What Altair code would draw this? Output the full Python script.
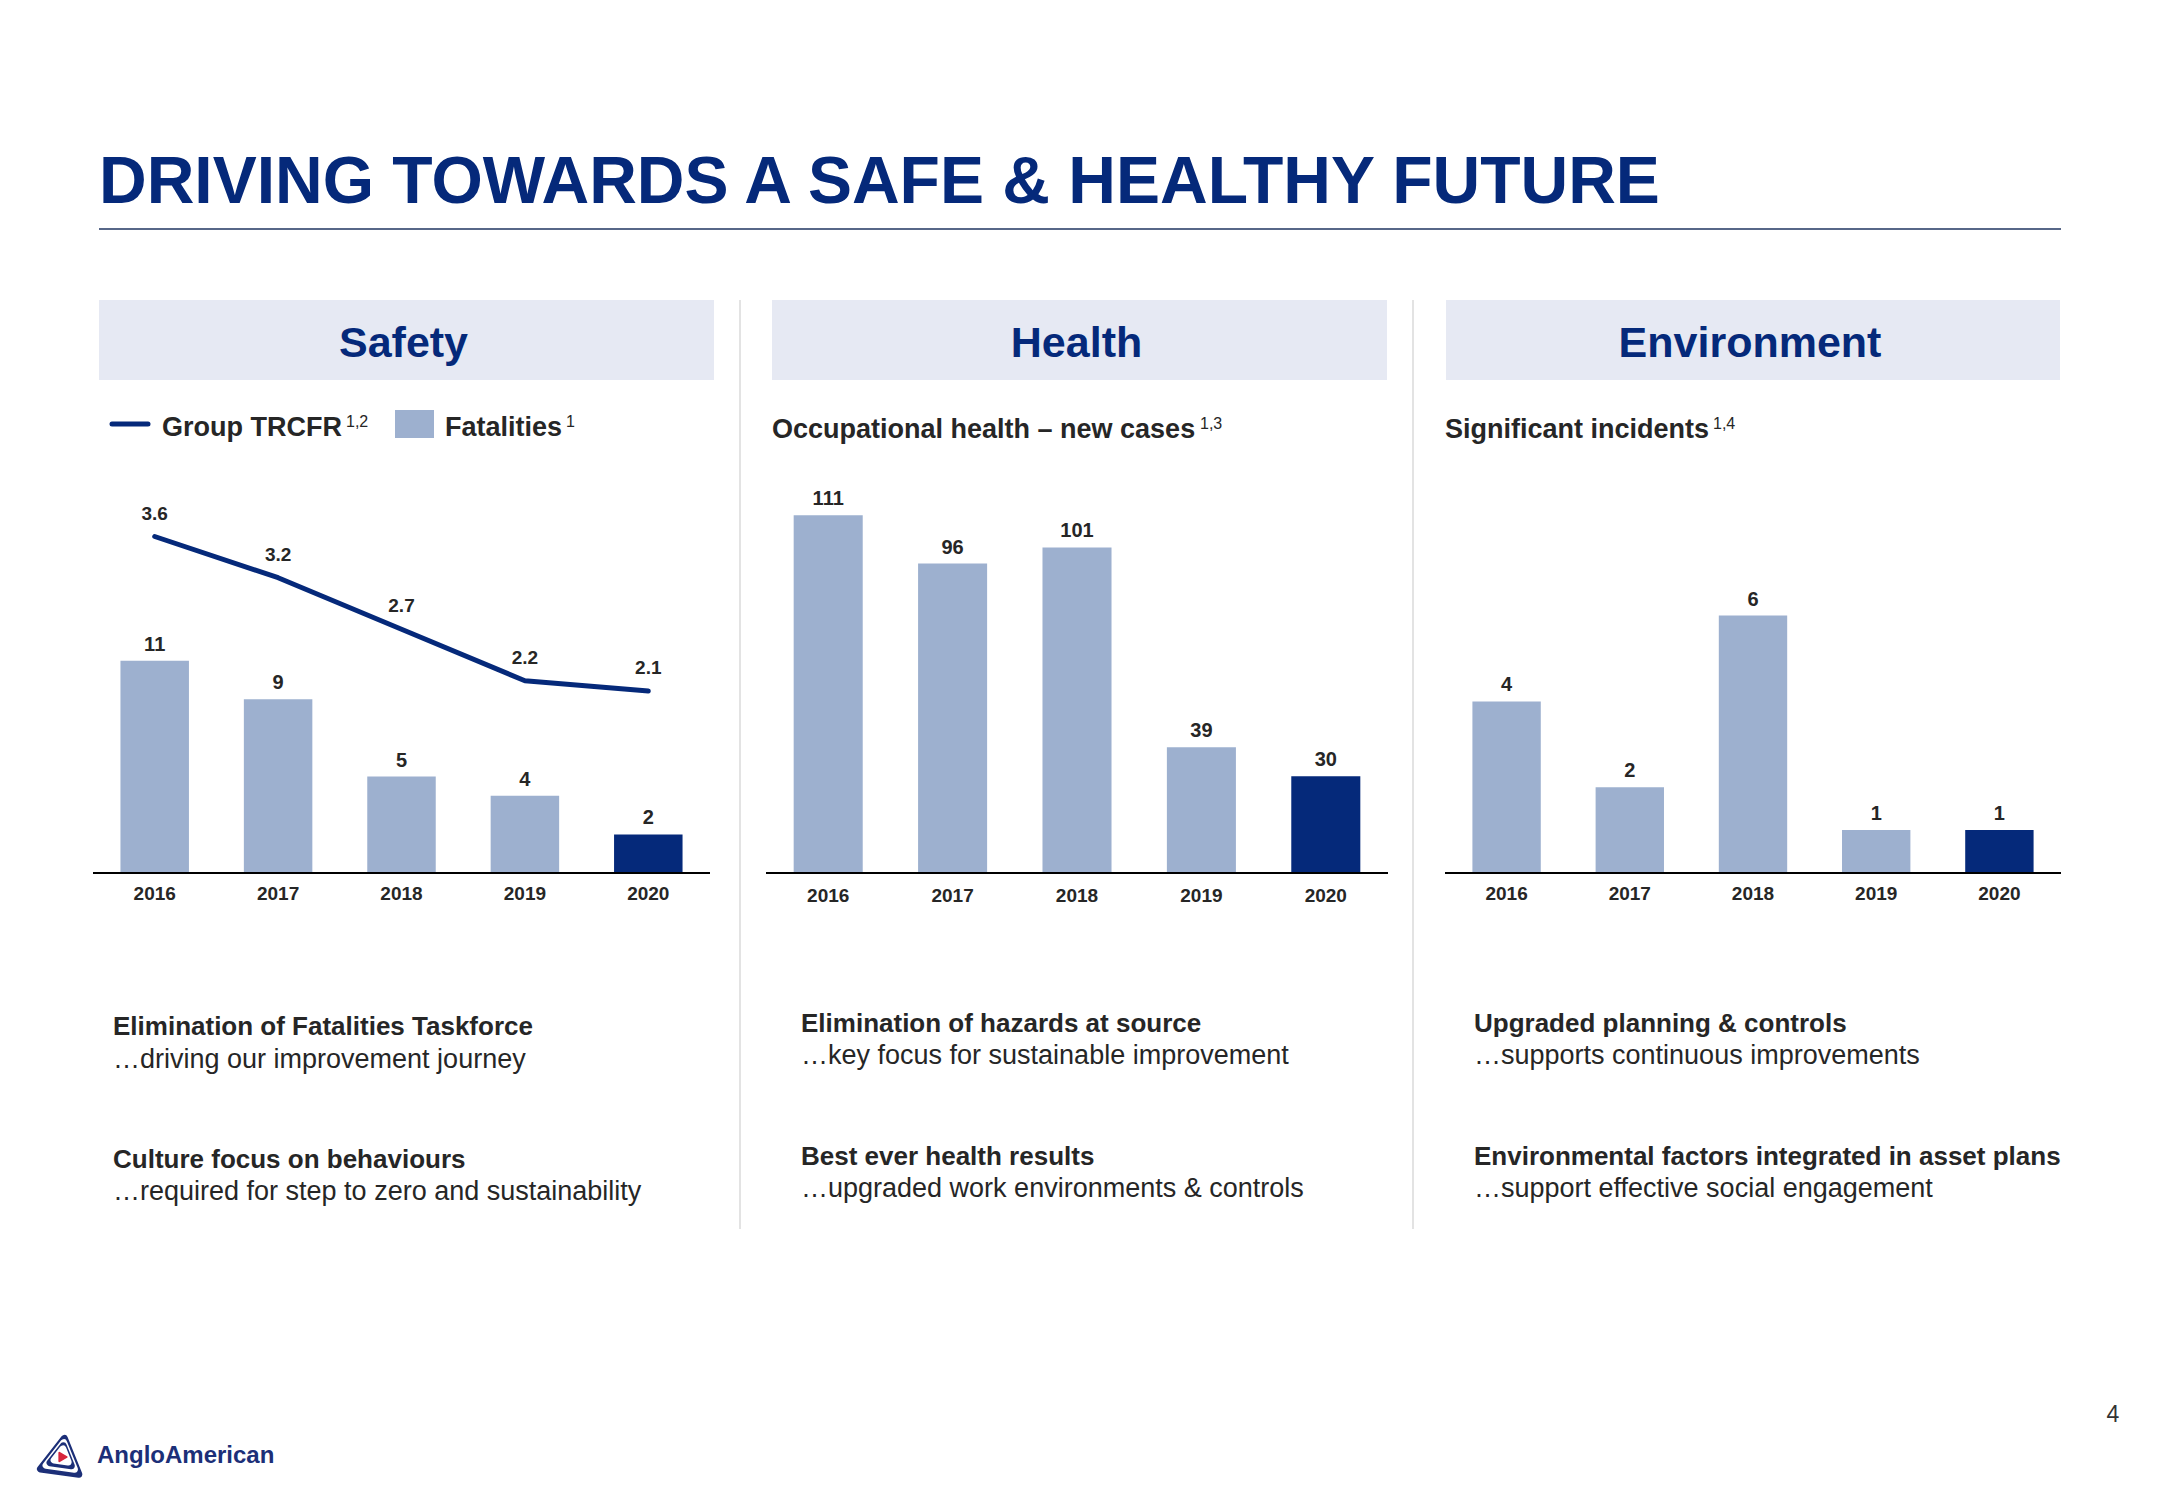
import altair as alt
import pandas as pd

# ---------------- data ----------------
years = ["2016", "2017", "2018", "2019", "2020"]
fatalities = [11, 9, 5, 4, 2]
trcfr = [3.6, 3.2, 2.7, 2.2, 2.1]
health_cases = [111, 96, 101, 39, 30]
env_incidents = [4, 2, 6, 1, 1]
highlight_year = "2020"

slide_title = "DRIVING TOWARDS A SAFE & HEALTHY FUTURE"
panel_titles = ["Safety", "Health", "Environment"]
legend_labels = ["Group TRCFR", "Fatalities"]
legend_notes = ["1,2", "1"]
subtitles = ["Occupational health \u2013 new cases", "Significant incidents"]
subtitle_notes = ["1,3", "1,4"]
bold_lines = [
    ["Elimination of Fatalities Taskforce", "Culture focus on behaviours"],
    ["Elimination of hazards at source", "Best ever health results"],
    ["Upgraded planning & controls", "Environmental factors integrated in asset plans"],
]
regular_lines = [
    ["\u2026driving our improvement journey", "\u2026required for step to zero and sustainability"],
    ["\u2026key focus for sustainable improvement", "\u2026upgraded work environments & controls"],
    ["\u2026supports continuous improvements", "\u2026support effective social engagement"],
]
page_number = "4"
logo_text = "AngloAmerican"

# ---------------- style ----------------
FONT = "Liberation Sans, Arial, sans-serif"
NAVY = "#05297A"
LIGHT = "#9DB0CF"
BOX = "#E6E9F3"
TEXT = "#262626"
SEP = "#DADADA"
W, H = 2166, 1500
BASE = 873

one = alt.Data(values=[{"a": 1}])


def txt(s, x, y, size, weight="normal", color=TEXT, align="left"):
    return alt.Chart(one).mark_text(
        text=s, fontSize=size, fontWeight=weight, color=color, align=align,
        baseline="alphabetic", font=FONT
    ).encode(x=alt.value(x), y=alt.value(y))


def rule(x1, x2, y1, y2, color, width):
    return alt.Chart(one).mark_rule(color=color, strokeWidth=width).encode(
        x=alt.value(x1), x2=alt.value(x2), y=alt.value(y1), y2=alt.value(y2))


def rect(x1, x2, y1, y2, color):
    return alt.Chart(one).mark_rect(color=color).encode(
        x=alt.value(x1), x2=alt.value(x2), y=alt.value(y1), y2=alt.value(y2))


layers = []

# title + underline
layers.append(txt(slide_title, 99, 203, 66, "bold", NAVY))
layers.append(rule(99, 2061, 229, 229, "#1F3560", 1.5))

# header boxes
boxes = [(99, 714), (772, 1387), (1446, 2060)]
for (x1, x2), t in zip(boxes, panel_titles):
    layers.append(rect(x1, x2, 300, 380, BOX))
    layers.append(txt(t, (x1 + x2) / 2 - 3, 357, 43, "bold", NAVY, "center"))

# separators
layers.append(rule(740, 740, 300, 1229, SEP, 1.5))
layers.append(rule(1413, 1413, 300, 1229, SEP, 1.5))

# Safety legend
layers.append(alt.Chart(one).mark_rule(color=NAVY, strokeWidth=5, strokeCap="round").encode(
    x=alt.value(112), x2=alt.value(148), y=alt.value(424), y2=alt.value(424)))
layers.append(txt(legend_labels[0], 162, 436, 27, "bold"))
layers.append(txt(legend_notes[0], 346, 427, 16))
layers.append(rect(395, 434, 410, 438, LIGHT))
layers.append(txt(legend_labels[1], 445, 436, 27, "bold"))
layers.append(txt(legend_notes[1], 566, 427, 16))

# subtitles
layers.append(txt(subtitles[0], 772, 438, 27, "bold"))
layers.append(txt(subtitle_notes[0], 1200, 429, 16))
layers.append(txt(subtitles[1], 1445, 438, 27, "bold"))
layers.append(txt(subtitle_notes[1], 1713, 429, 16))

# ---------------- charts ----------------
bar_color = alt.condition(alt.datum.year == highlight_year, alt.value(NAVY), alt.value(LIGHT))


def bar_panel(values, xrange, ydomain, yrange, year_y):
    df = pd.DataFrame({"year": years, "value": values})
    xs = alt.Scale(domain=years, range=xrange, paddingInner=0.445, paddingOuter=0.2225)
    ys = alt.Scale(domain=ydomain, range=yrange)
    base = alt.Chart(df)
    bars = base.mark_bar().encode(
        x=alt.X("year:N", scale=xs, axis=None),
        y=alt.Y("value:Q", scale=ys, axis=None),
        color=bar_color,
    )
    labels = base.mark_text(fontSize=20, fontWeight="bold", color=TEXT, font=FONT,
                            baseline="alphabetic", dy=-10).encode(
        x=alt.X("year:N", scale=xs, axis=None),
        y=alt.Y("value:Q", scale=ys, axis=None),
        text=alt.Text("value:Q"),
    )
    ylabels = base.mark_text(fontSize=19, fontWeight="bold", color=TEXT, font=FONT,
                             baseline="alphabetic").encode(
        x=alt.X("year:N", scale=xs, axis=None),
        y=alt.value(year_y),
        text=alt.Text("year:N"),
    )
    return [bars, labels, ylabels], xs


safety_layers, xs_safety = bar_panel(fatalities, [93, 710], [0, 20], [BASE, BASE - 20 * 19.3], 900)
health_layers, _ = bar_panel(health_cases, [766, 1388], [0, 120], [BASE, BASE - 120 * 3.223], 902)
env_layers, _ = bar_panel(env_incidents, [1445, 2061], [0, 9], [BASE, BASE - 9 * 42.9], 900)
layers += safety_layers + health_layers + env_layers

# baselines
layers.append(rule(93, 710, BASE, BASE, "#000000", 2))
layers.append(rule(766, 1388, BASE, BASE, "#000000", 2))
layers.append(rule(1445, 2061, BASE, BASE, "#000000", 2))

# TRCFR line
line_df = pd.DataFrame({"year": years, "rate": trcfr})
ys_line = alt.Scale(domain=[0.335, 4.09], range=[BASE, 486])
line = alt.Chart(line_df).mark_line(color=NAVY, strokeWidth=5, strokeCap="round",
                                    strokeJoin="round").encode(
    x=alt.X("year:N", scale=xs_safety, axis=None),
    y=alt.Y("rate:Q", scale=ys_line, axis=None),
)
line_labels = alt.Chart(line_df).mark_text(fontSize=19, fontWeight="bold", color=TEXT, font=FONT,
                                           baseline="alphabetic", dy=-17).encode(
    x=alt.X("year:N", scale=xs_safety, axis=None),
    y=alt.Y("rate:Q", scale=ys_line, axis=None),
    text=alt.Text("rate:Q", format=".1f"),
)
layers += [line, line_labels]

# ---------------- bottom texts ----------------
col_x = [113, 801, 1474]
col_y = [(1035, 1068, 1168, 1200), (1032, 1064, 1165, 1197), (1032, 1064, 1165, 1197)]
for i in range(3):
    yb1, yr1, yb2, yr2 = col_y[i]
    layers.append(txt(bold_lines[i][0], col_x[i], yb1, 26, "bold"))
    layers.append(txt(regular_lines[i][0], col_x[i], yr1, 27))
    layers.append(txt(bold_lines[i][1], col_x[i], yb2, 26, "bold"))
    layers.append(txt(regular_lines[i][1], col_x[i], yr2, 27))

# page number
layers.append(txt(page_number, 2113, 1422, 23, "normal", "#333333", "center"))

# logo: concentric rounded triangles
logo_rings = [(1500, "#1C2F78"), (820, "white"), (460, "#1C2F78"), (200, "white")]
for size, col in logo_rings:
    layers.append(alt.Chart(one).mark_point(
        shape="triangle-up", filled=True, fill=col, stroke=col, strokeWidth=7,
        strokeJoin="round", size=size, angle=8, opacity=1).encode(
        x=alt.value(62), y=alt.value(1455)))
layers.append(alt.Chart(one).mark_point(
    shape="triangle-right", filled=True, fill="#D7263D", stroke="#D7263D", strokeWidth=2,
    strokeJoin="round", size=70, opacity=1).encode(
    x=alt.value(63), y=alt.value(1457)))
layers.append(txt(logo_text, 97, 1463, 24, "bold", "#1C2F78"))

chart = alt.layer(*layers).resolve_scale(
    x="independent", y="independent", color="independent"
).properties(
    width=W, height=H, padding=0,
    autosize=alt.AutoSizeParams(type="none"),
    background="white",
).configure_view(stroke=None)

chart.save("out.html", embed_options={"renderer": "svg", "actions": False})
